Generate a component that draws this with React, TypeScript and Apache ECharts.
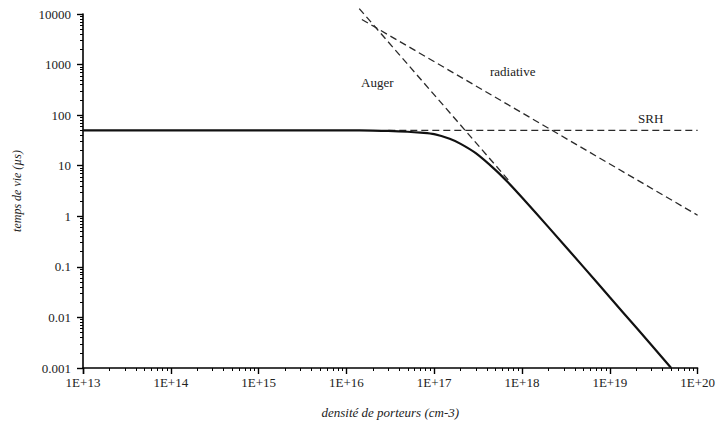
import React, { useEffect, useRef } from "react";
import * as echarts from "echarts";

// carrier density (cm-3) and total lifetime (µs)
const totalN = [1e13, 1e14, 1e15, 1e16, 2e16, 3e16, 5e16, 7e16, 1e17, 1.5e17, 2e17, 3e17, 5e17, 7e17, 1e18, 2e18, 5e18, 1e19, 2e19, 5e19];
const totalTau = [50, 50, 50, 50, 49.5, 48.8, 47, 45, 42, 34, 27, 17.5, 8.2, 4.6, 2.35, 0.61, 0.1, 0.025, 0.0063, 0.001];

const srhN = [3e16, 1e20];
const srhTau = [50, 50];

const augerN = [1.4e16, 7e17];
const augerTau = [12800, 5.2];

const radN = [1.5e16, 1e20];
const radTau = [7800, 1.05];

const xTicks = ["1E+13", "1E+14", "1E+15", "1E+16", "1E+17", "1E+18", "1E+19", "1E+20"];
const yTicks = ["0.001", "0.01", "0.1", "1", "10", "100", "1000", "10000"];

const pairs = (xs: number[], ys: number[]) => xs.map((x, i) => [x, ys[i]]);

const FONT = "'Liberation Serif', 'DejaVu Serif', serif";

export default function App() {
  const ref = useRef<HTMLDivElement>(null);
  useEffect(() => {
    if (!ref.current) return;
    const chart = echarts.init(ref.current, undefined, { renderer: "svg" });
    const dashed = { color: "#2a2a2a", width: 1.3, type: [7, 4] as any };
    const axisCommon = {
      axisLine: { show: true, lineStyle: { color: "#000", width: 1.6 } },
      axisTick: { show: true, length: 6, lineStyle: { color: "#000", width: 1.4 } },
      minorTick: { show: true, splitNumber: 9, length: 3, lineStyle: { color: "#000", width: 1 } },
      splitLine: { show: false },
    };
    chart.setOption({
      animation: false,
      grid: { left: 83, right: 18, top: 14, bottom: 62 },
      xAxis: {
        type: "log",
        min: 1e13,
        max: 1e20,
        name: "densité de porteurs (cm-3)",
        nameLocation: "middle",
        nameGap: 38,
        nameTextStyle: { fontFamily: FONT, fontStyle: "italic", fontSize: 13, color: "#222" },
        ...axisCommon,
        axisLabel: {
          fontFamily: FONT,
          fontSize: 13,
          color: "#222",
          margin: 8,
          formatter: (v: number) => xTicks[Math.round(Math.log10(v)) - 13] ?? "",
        },
      },
      yAxis: {
        type: "log",
        min: 0.001,
        max: 10000,
        name: "temps de vie (µs)",
        nameLocation: "middle",
        nameGap: 60,
        nameRotate: 90,
        nameTextStyle: { fontFamily: FONT, fontStyle: "italic", fontSize: 12, color: "#222" },
        ...axisCommon,
        axisLabel: {
          fontFamily: FONT,
          fontSize: 13,
          color: "#222",
          margin: 12,
          formatter: (v: number) => yTicks[Math.round(Math.log10(v)) + 3] ?? "",
        },
      },
      series: [
        { type: "line", name: "SRH", data: pairs(srhN, srhTau), showSymbol: false, lineStyle: dashed },
        { type: "line", name: "Auger", data: pairs(augerN, augerTau), showSymbol: false, clip: false, lineStyle: dashed },
        { type: "line", name: "radiative", data: pairs(radN, radTau), showSymbol: false, clip: false, lineStyle: dashed },
        {
          type: "line",
          name: "total",
          data: pairs(totalN, totalTau),
          showSymbol: false,
          smooth: 0.3,
          lineStyle: { color: "#111", width: 2.2 },
        },
      ],
      graphic: [
        { type: "text", left: 361, top: 76, style: { text: "Auger", font: `13px ${FONT}`, fill: "#222" } },
        { type: "text", left: 490, top: 65, style: { text: "radiative", font: `13px ${FONT}`, fill: "#222" } },
        { type: "text", left: 638, top: 112, style: { text: "SRH", font: `13px ${FONT}`, fill: "#222" } },
      ],
    });
    return () => chart.dispose();
  }, []);
  return (
    <div style={{ position: "absolute", left: 0, top: 0, width: 718, height: 430, background: "#fff" }}>
      <div ref={ref} style={{ width: 718, height: 430 }} />
    </div>
  );
}
